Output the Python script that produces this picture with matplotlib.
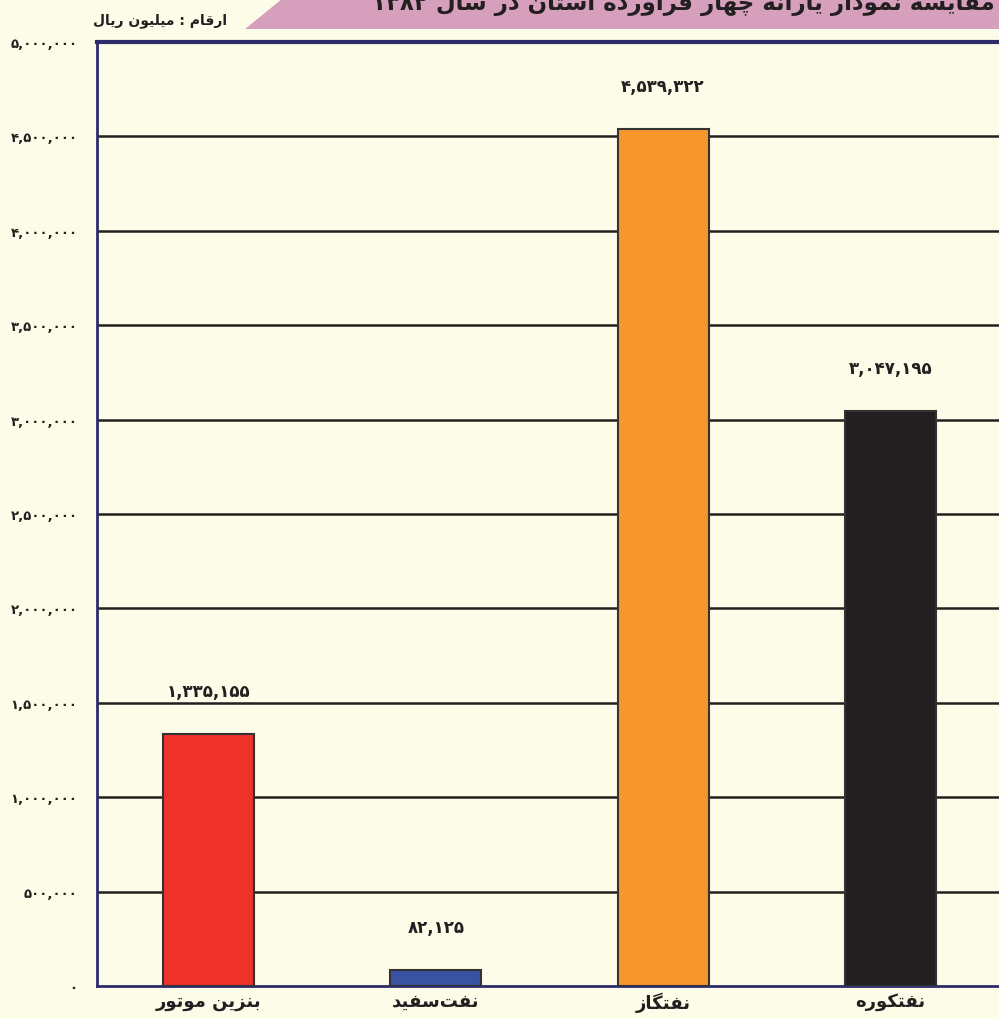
import re
import matplotlib
matplotlib.use("Agg")
import matplotlib.pyplot as plt
from matplotlib.patches import Polygon

# presentation forms: isolated, final, initial, medial (None for right-joining)
FORMS = {
    'ا': (0xFE8D, 0xFE8E, None, None),
    'ب': (0xFE8F, 0xFE90, 0xFE91, 0xFE92),
    'ت': (0xFE95, 0xFE96, 0xFE97, 0xFE98),
    'د': (0xFEA9, 0xFEAA, None, None),
    'ر': (0xFEAD, 0xFEAE, None, None),
    'ز': (0xFEAF, 0xFEB0, None, None),
    'س': (0xFEB1, 0xFEB2, 0xFEB3, 0xFEB4),
    'ف': (0xFED1, 0xFED2, 0xFED3, 0xFED4),
    'ق': (0xFED5, 0xFED6, 0xFED7, 0xFED8),
    'ل': (0xFEDD, 0xFEDE, 0xFEDF, 0xFEE0),
    'م': (0xFEE1, 0xFEE2, 0xFEE3, 0xFEE4),
    'ن': (0xFEE5, 0xFEE6, 0xFEE7, 0xFEE8),
    'ه': (0xFEE9, 0xFEEA, 0xFEEB, 0xFEEC),
    'و': (0xFEED, 0xFEEE, None, None),
    'ی': (0xFBFC, 0xFBFD, 0xFBFE, 0xFBFF),
    'ک': (0xFB8E, 0xFB8F, 0xFB90, 0xFB91),
    'گ': (0xFB92, 0xFB93, 0xFB94, 0xFB95),
    'چ': (0xFB7A, 0xFB7B, 0xFB7C, 0xFB7D),
}


def fa(text):
    # join letters, then lay out right to left (digit runs stay left to right)
    out = []
    for i, ch in enumerate(text):
        if ch not in FORMS:
            out.append(ch)
            continue
        prev = text[i - 1] if i > 0 else ''
        nxt = text[i + 1] if i + 1 < len(text) else ''
        before = prev in FORMS and FORMS[prev][2] is not None
        after = FORMS[ch][2] is not None and nxt in FORMS
        f = FORMS[ch]
        if before and after:
            code = f[3]
        elif before:
            code = f[1]
        elif after:
            code = f[2]
        else:
            code = f[0]
        out.append(chr(code))
    s = ''.join(out).replace('\u200c', '')[::-1]
    return re.sub(r'[۰-۹,]+', lambda m: m.group(0)[::-1], s)


def fa_num(v):
    return f"{v:,}".translate(str.maketrans('0123456789', '۰۱۲۳۴۵۶۷۸۹'))


categories = ['بنزین موتور', 'نفت\u200cسفید', 'نفتگاز', 'نفتکوره']
values = [1335155, 82125, 4539322, 3047195]
colors = ['#ee3129', '#3a52a2', '#f7962d', '#231f20']
yticks = list(range(0, 5000001, 500000))
title = 'مقایسه نمودار یارانه چهار فراورده استان در سال ۱۳۸۲'
unit = 'ارقام : میلیون ریال'

bg = '#fdfce8'
navy = '#2e2b6b'

plt.rcParams['font.family'] = ['DejaVu Sans']
fig = plt.figure(figsize=(9.99, 10.2), dpi=100, facecolor=bg)
ax = fig.add_axes([97 / 999, 33 / 1020, 1 - 97 / 999, (987 - 43) / 1020])
ax.set_facecolor(bg)

x = list(range(len(categories)))
ax.bar(x, values, width=0.40, color=colors, edgecolor='#333333', linewidth=1.5, zorder=3)
for xi, v in zip(x, values):
    ax.annotate(fa_num(v), (xi, v), xytext=(0, 31), textcoords='offset points',
                ha='center', va='center', fontsize=12, fontweight='bold', color='#231f20')

ax.set_xlim(-0.491, 3.478)
ax.set_ylim(0, 5000000)
ax.set_yticks(yticks)
ax.set_yticklabels([fa_num(t) for t in yticks], fontsize=9.5, fontweight='bold', color='#231f20')
ax.set_xticks(x)
ax.set_xticklabels([fa(c) for c in categories], fontsize=13, fontweight='bold', color='#231f20')
ax.tick_params(axis='y', length=0, pad=14)
ax.tick_params(axis='x', length=0, pad=4)

for t in yticks[1:-1]:
    ax.axhline(t, color='#231f20', linewidth=1.8, zorder=1)

ax.spines['right'].set_visible(False)
ax.spines['left'].set_color(navy)
ax.spines['left'].set_linewidth(2)
ax.spines['bottom'].set_color(navy)
ax.spines['bottom'].set_linewidth(2)
ax.spines['top'].set_color(navy)
ax.spines['top'].set_linewidth(3)

# title banner, cut by the top edge
H = 1020
banner = Polygon([(245 / 999, 1 - 30 / H), (282 / 999, 1.0), (1.0, 1.0), (1.0, 1 - 30 / H)],
                 closed=True, transform=fig.transFigure, facecolor='#d6a0bc', edgecolor='none')
fig.patches.append(banner)
fig.text(995 / 999, 1 - 4 / H, fa(title), ha='right', va='center', fontsize=16.5,
         fontweight='bold', color='#231f20')
fig.text(160 / 999, 1 - 21 / H, fa(unit), ha='center', va='center', fontsize=10,
         fontweight='bold', color='#231f20')

fig.savefig('out.png', dpi=100, facecolor=bg)
